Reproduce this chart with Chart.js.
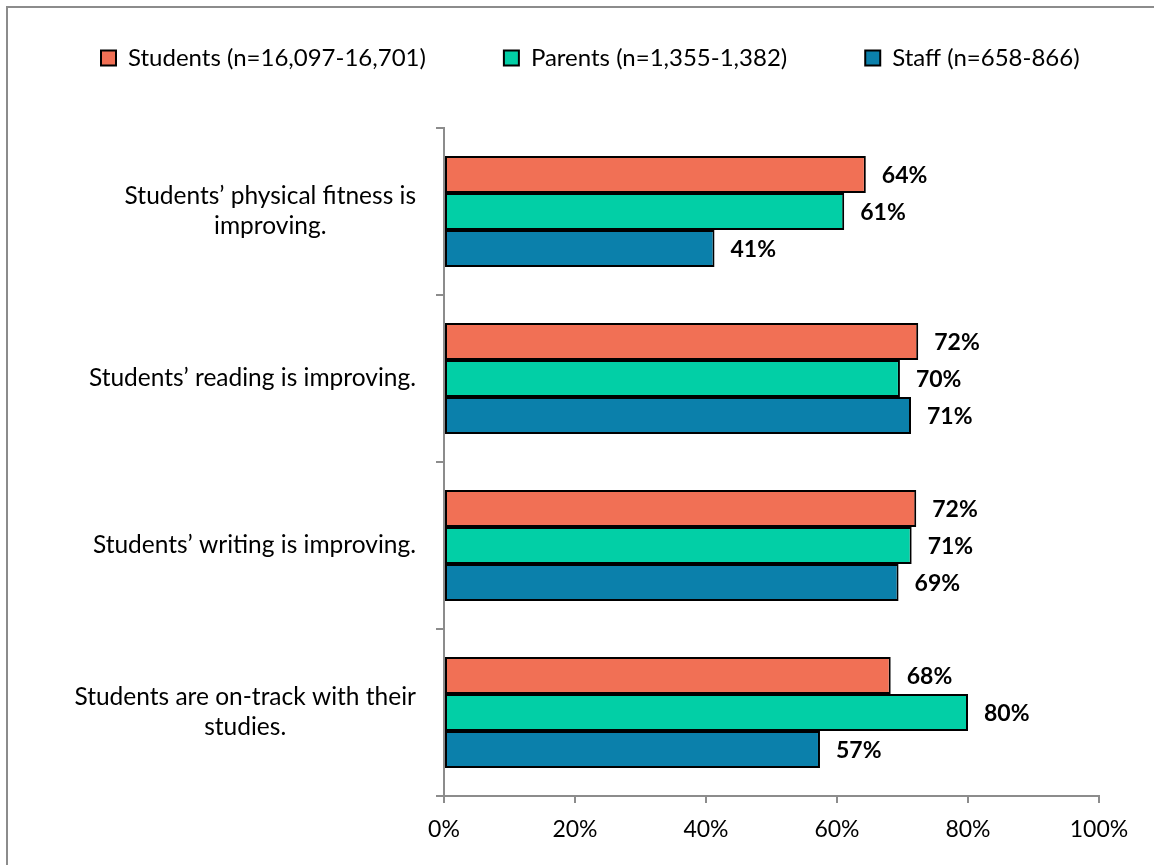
<!DOCTYPE html>
<html>
<head>
<meta charset="utf-8">
<script src="https://cdn.jsdelivr.net/npm/chart.js@4.4.1/dist/chart.umd.min.js"></script>
<style>
  html, body { margin: 0; padding: 0; background: #fff; overflow: hidden; }
  #wrap { position: relative; width: 1154px; height: 865px; }
  #frame { position: absolute; left: 6px; top: 6px; width: 1300px; height: 1000px;
           border-left: 2px solid #8c8c8c; border-top: 2px solid #8c8c8c; }
  canvas { position: absolute; left: 0; top: 0; }
</style>
</head>
<body>
<div id="wrap">
  <div id="frame"></div>
  <canvas id="c" width="1154" height="865"></canvas>
</div>
<script>
// ---- Data ----
const categories = [
  ["Students’ physical fitness is", "improving."],
  ["Students’ reading is improving."],
  ["Students’ writing is improving."],
  ["Students are on-track with their", "studies."]
];
const seriesNames = ["Students (n=16,097-16,701)", "Parents (n=1,355-1,382)", "Staff (n=658-866)"];
const studentsValues = [64.4, 72.4, 72.1, 68.2];
const parentsValues  = [61.1, 69.6, 71.4, 80.0];
const staffValues    = [41.3, 71.3, 69.4, 57.4];
const xTickValues = [0, 20, 40, 60, 80, 100];

// ---- Styles ----
const colors = ["#F17055", "#02CFA6", "#0B80AB"];
const FONT = "Lato";
Chart.defaults.font.family = FONT;
Chart.defaults.color = "#000";

const axisGray = "#8c8c8c";
const LEGEND_FONT = 24;
const LEGEND_PAD = 78;

const yLabelPlugin = {
  id: "yLabels",
  afterDraw(chart) {
    const ys = chart.scales.y;
    const ctx = chart.ctx;
    ctx.save();
    ctx.font = "24.5px " + FONT;
    ctx.fillStyle = "#000";
    ctx.textAlign = "center";
    ctx.textBaseline = "middle";
    const rightEdge = 416;
    const lh = 30;
    categories.forEach((lines, i) => {
      const cy = ys.getPixelForValue(i);
      let widest = 0;
      lines.forEach(l => { widest = Math.max(widest, ctx.measureText(l).width); });
      const cx = rightEdge - widest / 2;
      lines.forEach((l, k) => {
        ctx.fillText(l, cx, cy + (k - (lines.length - 1) / 2) * lh);
      });
    });
    ctx.restore();
  }
};

const valueLabelPlugin = {
  id: "valueLabels",
  afterDatasetsDraw(chart) {
    const ctx = chart.ctx;
    ctx.save();
    ctx.font = "bold 23px " + FONT;
    ctx.fillStyle = "#000";
    ctx.textAlign = "left";
    ctx.textBaseline = "middle";
    chart.data.datasets.forEach((ds, di) => {
      const meta = chart.getDatasetMeta(di);
      meta.data.forEach((el, i) => {
        ctx.fillText(Math.round(ds.data[i]) + "%", el.x + 16, el.y + 1);
      });
    });
    ctx.restore();
  }
};

const legendShiftPlugin = {
  id: "legendShift",
  afterLayout(chart) {
    const lg = chart.legend;
    if (!lg || !lg.lineWidths) return;
    const pad = lg.options.labels.padding;
    const startX = (lg.left + pad + lg.right - lg.lineWidths[0]) / 2;
    const dx = 101 - startX;
    lg.left += dx; lg.right += dx;
    const dy = (58 - LEGEND_FONT / 2 - pad) - lg.top;
    lg.top += dy; lg.bottom += dy;
  }
};

new Chart(document.getElementById("c"), {
  type: "bar",
  data: {
    labels: categories,
    datasets: [
      { label: seriesNames[0], data: studentsValues, backgroundColor: colors[0] },
      { label: seriesNames[1], data: parentsValues,  backgroundColor: colors[1] },
      { label: seriesNames[2], data: staffValues,    backgroundColor: colors[2] }
    ].map(d => Object.assign(d, {
      borderColor: "#000", borderWidth: 2, borderSkipped: false,
      categoryPercentage: 0.665, barPercentage: 1.0
    }))
  },
  options: {
    indexAxis: "y",
    responsive: false,
    animation: false,
    devicePixelRatio: 1,
    layout: { padding: { top: 16, right: 0, bottom: 0, left: 0 } },
    plugins: {
      tooltip: { enabled: false },
      legend: {
        position: "top",
        labels: {
          font: { size: LEGEND_FONT, family: FONT },
          color: "#000",
          boxWidth: 15,
          boxHeight: 15,
          padding: LEGEND_PAD
        }
      }
    },
    scales: {
      x: {
        type: "linear",
        min: 0, max: 100,
        afterBuildTicks(scale) { scale.ticks = xTickValues.map(v => ({ value: v })); },
        ticks: {
          callback: v => v + "%",
          font: { size: 23, family: FONT },
          color: "#000",
          padding: 13,
          maxRotation: 0
        },
        grid: { drawOnChartArea: false, drawTicks: true, tickLength: 7, color: axisGray, lineWidth: 2 },
        border: { display: true, color: axisGray, width: 2 },
        afterFit(scale) { scale.height = 69; scale.paddingLeft = 0; scale.paddingRight = 55; }
      },
      y: {
        type: "category",
        ticks: { display: false },
        grid: { drawOnChartArea: false, drawTicks: true, tickLength: 8, color: axisGray, lineWidth: 2, offset: true },
        border: { display: true, color: axisGray, width: 2 },
        afterFit(scale) { scale.width = 444; scale.paddingTop = 0; scale.paddingBottom = 0; }
      }
    }
  },
  plugins: [yLabelPlugin, valueLabelPlugin, legendShiftPlugin]
});
</script>
</body>
</html>
